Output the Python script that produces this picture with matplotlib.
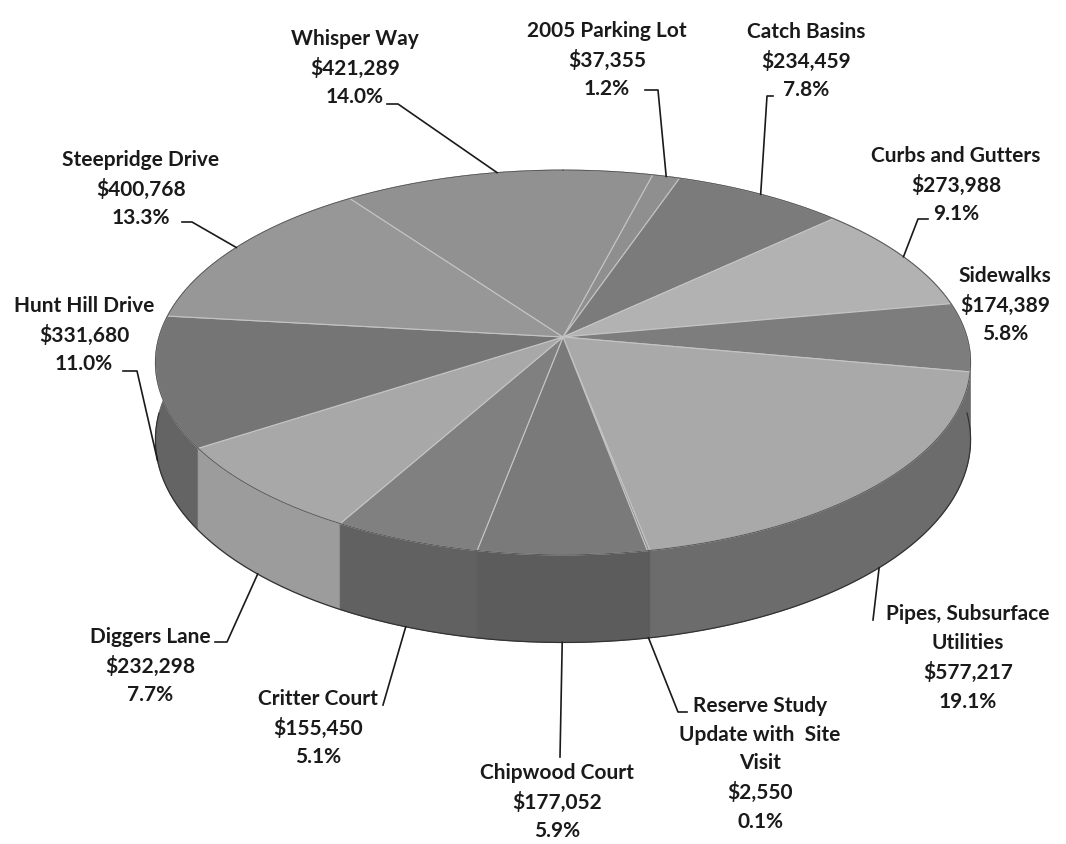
import numpy as np
import matplotlib.pyplot as plt
from matplotlib.patches import Polygon

# slices in clockwise order, starting at the top
names = ['2005 Parking Lot', 'Catch Basins', 'Curbs and Gutters', 'Sidewalks',
         'Pipes, Subsurface\nUtilities', 'Reserve Study\nUpdate with  Site\nVisit',
         'Chipwood Court', 'Critter Court', 'Diggers Lane', 'Hunt Hill Drive',
         'Steepridge Drive', 'Whisper Way']
costs = [37355, 234459, 273988, 174389, 577217, 2550,
         177052, 155450, 232298, 331680, 400768, 421289]
top_colors = ['#8f8f8f', '#7b7b7b', '#b2b2b2', '#7d7d7d', '#a9a9a9', '#8a8a8a',
              '#7a7a7a', '#808080', '#a8a8a8', '#757575', '#979797', '#919191']
side_colors = ['#707070', '#606060', '#8a8a8a', '#5e5e5e', '#6c6c6c', '#5a5a5a',
               '#5c5c5c', '#616161', '#9c9c9c', '#646464', '#707070', '#707070']

# label placement (pixel layout) and leader knee points
label_xy = [(607, 60), (806, 61), (956, 185), (1005, 305), (968, 658), (760, 764),
            (557, 802), (318, 728), (150, 666), (84, 335), (141, 189), (355, 68)]
knees = [[(645, 90), (658, 90)], [(773, 96), (767, 96)], [(928, 219), (918, 219)], None,
         [(873, 620)], [(687, 712), (678, 712)], [(560, 757)], [(383, 705)],
         [(215, 642), (227, 642)], [(123, 371), (137, 371)], [(182, 222), (192, 222)],
         [(387, 104), (398, 104)]]

# 3d look: centre, radii, perspective and thickness
CX, CY = 563, 337
RX, RY = 404, 189
K = 0.1325
DEPTH = 76
start_deg = 14.5

total = sum(costs)
fracs = np.array(costs) / total
edges = start_deg + 360 * np.concatenate([[0], np.cumsum(fracs)])


def proj(theta_deg, drop=0.0):
    t = np.radians(theta_deg)
    x = np.sin(t)
    y = np.cos(t)
    w = 1 + K * y
    return CX + RX * x / w, CY - RY * y / w + drop / w


fig = plt.figure(figsize=(10.66, 8.44), dpi=100)
ax = fig.add_axes([0, 0, 1, 1])
ax.set_xlim(0, 1066)
ax.set_ylim(844, 0)
ax.axis('off')

# side walls, far ones first
order = sorted(range(len(costs)), key=lambda i: -np.cos(np.radians((edges[i] + edges[i + 1]) / 2)))
for i in order:
    th = np.linspace(edges[i], edges[i + 1], 80)
    xt, yt = proj(th)
    xb, yb = proj(th, DEPTH)
    pts = np.column_stack([np.concatenate([xt, xb[::-1]]), np.concatenate([yt, yb[::-1]])])
    ax.add_patch(Polygon(pts, closed=True, facecolor=side_colors[i], edgecolor=side_colors[i],
                         lw=0.6, zorder=1))

# top faces
for i in range(len(costs)):
    th = np.linspace(edges[i], edges[i + 1], 120)
    xt, yt = proj(th)
    pts = np.column_stack([np.concatenate([[CX], xt]), np.concatenate([[CY], yt])])
    ax.add_patch(Polygon(pts, closed=True, facecolor=top_colors[i], edgecolor='#c4c4c4',
                         lw=0.8, zorder=2))

# outline of the whole shape
th = np.linspace(0, 360, 400)
xt, yt = proj(th)
ax.plot(xt, yt, color='#555555', lw=0.7, zorder=3)
front = np.linspace(90, 270, 200)
xb, yb = proj(front, DEPTH)
ax.plot(xb, yb, color='#333333', lw=0.9, zorder=3)

# labels and leader lines
for i in range(len(costs)):
    pct = 100 * costs[i] / total
    txt = f"{names[i]}\n${costs[i]:,}\n{pct:.1f}%"
    ax.text(label_xy[i][0], label_xy[i][1], txt, ha='center', va='center',
            fontsize=15, fontweight='bold', family='Lato', linespacing=1.53,
            color='#1a1a1a', zorder=5)
    if knees[i] is None:
        continue
    mid = (edges[i] + edges[i + 1]) / 2
    if np.cos(np.radians(mid)) > 0:
        axx, axy = proj(mid)
    else:
        axx, axy = proj(mid, DEPTH)
    lx = [p[0] for p in knees[i]] + [axx]
    ly = [p[1] for p in knees[i]] + [axy]
    ax.plot(lx, ly, color='#1a1a1a', lw=1.2, zorder=4)

plt.savefig('out.png', dpi=100)
